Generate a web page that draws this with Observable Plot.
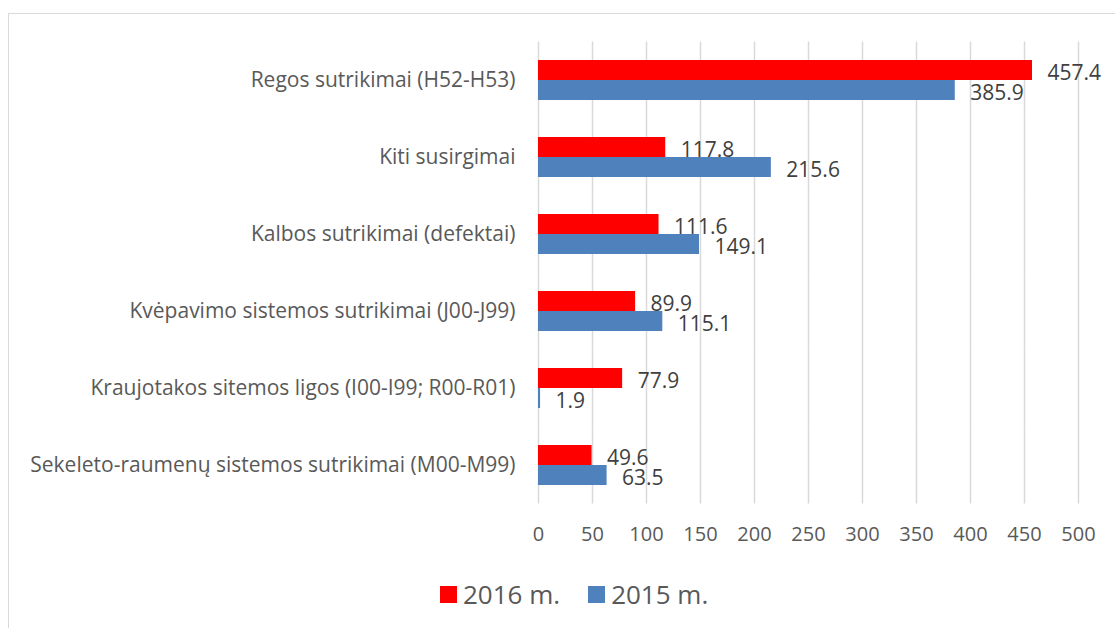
<!DOCTYPE html>
<html><head><meta charset="utf-8">
<script src="https://cdn.jsdelivr.net/npm/d3@7"></script>
<script src="https://cdn.jsdelivr.net/npm/@observablehq/plot@0.6"></script>
<style>
body{margin:0;background:#fff;font-family:"Open Sans",sans-serif;width:1115px;height:628px;overflow:hidden;position:relative;}
#frame{position:absolute;left:8px;top:13px;width:1200px;height:700px;border:1.5px solid #d9d9d9;box-sizing:border-box;}
#chart{position:absolute;left:0;top:0;}
#legend{position:absolute;left:440px;top:575px;height:38px;display:flex;justify-content:flex-start;align-items:center;gap:28px;font-size:26px;color:#595959;}
.item{display:flex;align-items:center;gap:6px;}
.sw{width:17px;height:17px;display:inline-block;}
</style></head>
<body>
<div id="frame"></div>
<div id="chart"></div>
<div id="legend"></div>
<script>
const categories = [
  "Regos sutrikimai (H52-H53)",
  "Kiti susirgimai",
  "Kalbos sutrikimai (defektai)",
  "Kvėpavimo sistemos sutrikimai (J00-J99)",
  "Kraujotakos sitemos ligos (I00-I99; R00-R01)",
  "Sekeleto-raumenų sistemos sutrikimai (M00-M99)"
];
const series = ["2016 m.", "2015 m."];
const values2016 = [457.4, 117.8, 111.6, 89.9, 77.9, 49.6];
const values2015 = [385.9, 215.6, 149.1, 115.1, 1.9, 63.5];
const colors = ["#ff0000", "#4f81bd"];
const xTicks = [0, 50, 100, 150, 200, 250, 300, 350, 400, 450, 500];

const rows = [];
categories.forEach((c, i) => {
  rows.push({category: c, series: series[0], value: values2016[i]});
  rows.push({category: c, series: series[1], value: values2015[i]});
});

const chart = Plot.plot({
  width: 1115,
  height: 560,
  marginLeft: 538,
  marginRight: 37,
  marginTop: 42,
  marginBottom: 56,
  style: {fontFamily: "'Open Sans', sans-serif", fontSize: "20px", color: "#595959", background: "transparent"},
  x: {domain: [0, 500], ticks: xTicks, tickSize: 0, tickPadding: 41, tickFormat: d => String(d), label: null},
  y: {domain: series, axis: null, padding: 0},
  fy: {domain: categories, paddingInner: 0.48, paddingOuter: 0.24, axis: null},
  color: {domain: series, range: colors},
  marks: [
    Plot.ruleX(xTicks, {x: d => d, stroke: "#d9d9d9", strokeWidth: 1.5, insetTop: -18.5, insetBottom: -18.5}),
    Plot.axisFy({anchor: "left", label: null, tickSize: 0, tickPadding: 23, fontSize: 21}),
    Plot.barX(rows, {x: "value", y: "series", fy: "category", fill: "series"}),
    Plot.text(rows, {x: "value", y: "series", fy: "category", text: d => d.value.toFixed(1), textAnchor: "start", dx: 15, dy: 2.5, fill: "#404040", fontSize: 21})
  ]
});
document.getElementById("chart").appendChild(chart);

const legend = document.getElementById("legend");
series.forEach((s, i) => {
  const item = document.createElement("div");
  item.className = "item";
  const sw = document.createElement("span");
  sw.className = "sw";
  sw.style.background = colors[i];
  const t = document.createElement("span");
  t.textContent = s;
  item.appendChild(sw);
  item.appendChild(t);
  legend.appendChild(item);
});
</script>
</body></html>
